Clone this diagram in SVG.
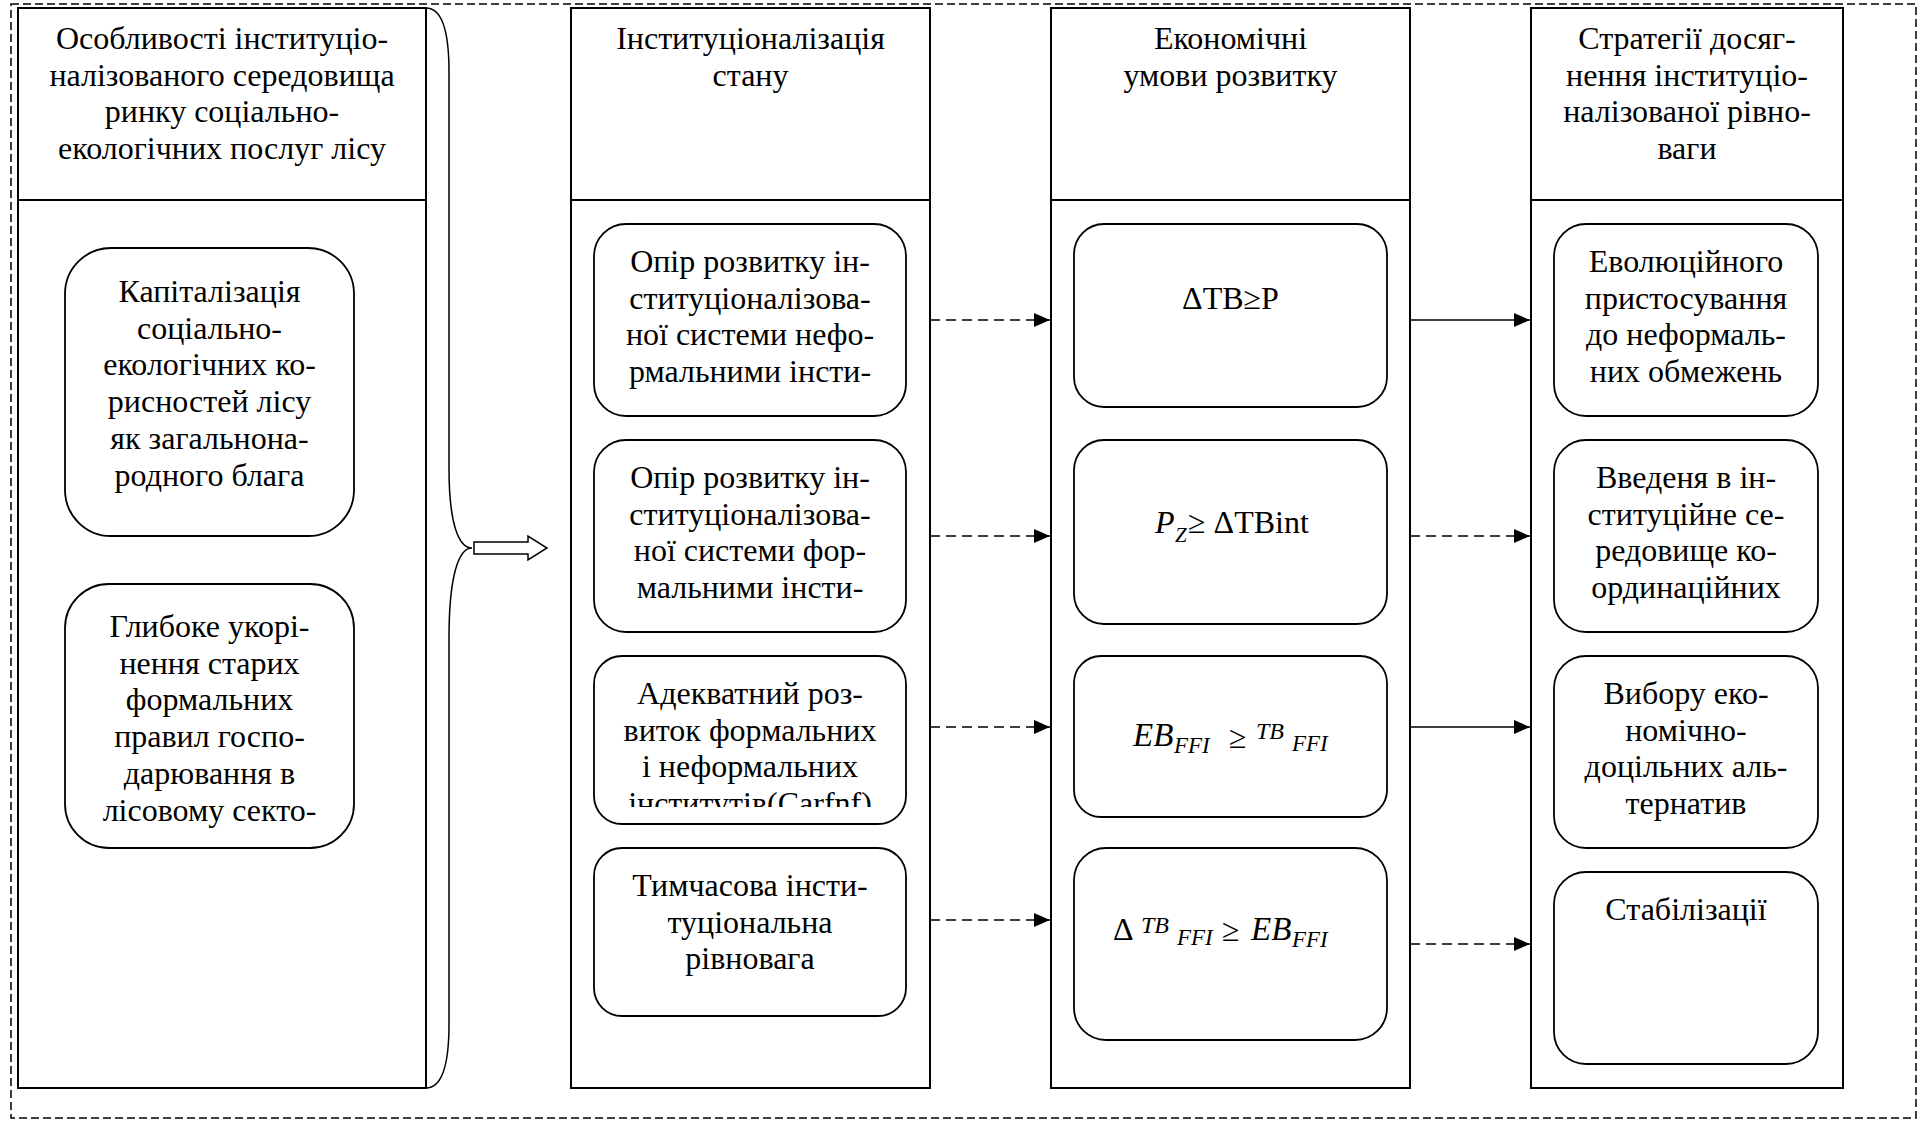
<svg xmlns="http://www.w3.org/2000/svg" width="1921" height="1121" viewBox="0 0 1921 1121">
<defs>
<style>
.t{font-family:"Liberation Serif","Times New Roman",serif;font-size:32px;fill:#000;text-anchor:middle}
.m{font-family:"Liberation Serif","Times New Roman",serif;font-size:32px;fill:#000}
.i{font-style:italic}
.b{font-size:33px}
.s{font-size:23px}
.u{font-size:24px}
.col{fill:none;stroke:#000;stroke-width:2}
.box{fill:none;stroke:#000;stroke-width:1.8}
.c{fill:none;stroke:#000;stroke-width:1.5}
.d{stroke-dasharray:10 6}
.frame{fill:none;stroke:#000;stroke-width:1.5;stroke-dasharray:8 4}
</style>
<marker id="ah" viewBox="0 0 16 14" markerWidth="16" markerHeight="14" refX="16" refY="7" orient="auto" markerUnits="userSpaceOnUse">
<path d="M0,0 L16,7 L0,14 Z" fill="#000"/>
</marker>
<clipPath id="clipA"><rect x="594" y="656" width="312" height="151"/></clipPath>
</defs>
<rect width="1921" height="1121" fill="#fff"/>
<rect class="frame" x="11" y="4" width="1905" height="1114"/>

<g id="col1">
<rect class="col" x="18" y="8" width="408" height="1080"/>
<line class="col" x1="18" y1="200" x2="426" y2="200"/>
<text class="t"><tspan x="222" y="49">Особливості інституціо-</tspan><tspan x="222" y="85.7">налізованого середовища</tspan><tspan x="222" y="122.4">ринку соціально-</tspan><tspan x="222" y="159.1">екологічних послуг лісу</tspan></text>
</g>
<g id="n-cap">
<rect class="box" x="65" y="248" width="289" height="288" rx="46"/>
<text class="t"><tspan x="209.5" y="302">Капіталізація</tspan><tspan x="209.5" y="338.7">соціально-</tspan><tspan x="209.5" y="375.4">екологічних ко-</tspan><tspan x="209.5" y="412.1">рисностей лісу</tspan><tspan x="209.5" y="448.8">як загальнона-</tspan><tspan x="209.5" y="485.5">родного блага</tspan></text>
</g>
<g id="n-gl">
<rect class="box" x="65" y="584" width="289" height="264" rx="44"/>
<text class="t"><tspan x="209.5" y="637">Глибоке укорі-</tspan><tspan x="209.5" y="673.7">нення старих</tspan><tspan x="209.5" y="710.4">формальних</tspan><tspan x="209.5" y="747.1">правил госпо-</tspan><tspan x="209.5" y="783.8">дарювання в</tspan><tspan x="209.5" y="820.5">лісовому секто-</tspan></text>
</g>

<g id="col2">
<rect class="col" x="571" y="8" width="359" height="1080"/>
<line class="col" x1="571" y1="200" x2="930" y2="200"/>
<text class="t"><tspan x="750.5" y="49">Інституціоналізація</tspan><tspan x="750.5" y="85.7">стану</tspan></text>
</g>
<g id="n-op1">
<rect class="box" x="594" y="224" width="312" height="192" rx="32"/>
<text class="t"><tspan x="750" y="272">Опір розвитку ін-</tspan><tspan x="750" y="308.7">ституціоналізова-</tspan><tspan x="750" y="345.4">ної системи нефо-</tspan><tspan x="750" y="382.1">рмальними інсти-</tspan></text>
</g>
<g id="n-op2">
<rect class="box" x="594" y="440" width="312" height="192" rx="32"/>
<text class="t"><tspan x="750" y="488">Опір розвитку ін-</tspan><tspan x="750" y="524.7">ституціоналізова-</tspan><tspan x="750" y="561.4">ної системи фор-</tspan><tspan x="750" y="598.1">мальними інсти-</tspan></text>
</g>
<g id="n-ad">
<rect class="box" x="594" y="656" width="312" height="168" rx="28"/>
<text class="t" clip-path="url(#clipA)"><tspan x="750" y="704">Адекватний роз-</tspan><tspan x="750" y="740.7">виток формальних</tspan><tspan x="750" y="777.4">і неформальних</tspan><tspan x="750" y="814.1">інститутів(Carfnf)</tspan></text>
</g>
<g id="n-tm">
<rect class="box" x="594" y="848" width="312" height="168" rx="28"/>
<text class="t"><tspan x="750" y="896">Тимчасова інсти-</tspan><tspan x="750" y="932.7">туціональна</tspan><tspan x="750" y="969.4">рівновага</tspan></text>
</g>

<g id="col3">
<rect class="col" x="1051" y="8" width="359" height="1080"/>
<line class="col" x1="1051" y1="200" x2="1410" y2="200"/>
<text class="t"><tspan x="1230.5" y="49">Економічні</tspan><tspan x="1230.5" y="85.7">умови розвитку</tspan></text>
</g>
<g id="n-f1">
<rect class="box" x="1074" y="224" width="313" height="183" rx="30"/>
<text class="t" x="1230.5" y="309">ΔTB≥P</text>
</g>
<g id="n-f2">
<rect class="box" x="1074" y="440" width="313" height="184" rx="30"/>
<text class="m"><tspan class="i" x="1155" y="533">P</tspan><tspan class="i" font-size="21" x="1175" y="542">Z</tspan><tspan x="1188" y="533">≥ ΔTBint</tspan></text>
</g>
<g id="n-f3">
<rect class="box" x="1074" y="656" width="313" height="161" rx="27"/>
<text class="m"><tspan class="i b" x="1133" y="746">EB</tspan><tspan class="i s" x="1174" y="753">FFI</tspan><tspan x="1229" y="748">≥</tspan><tspan class="i u" x="1256" y="739">TB</tspan><tspan class="i s" x="1292" y="751">FFI</tspan></text>
</g>
<g id="n-f4">
<rect class="box" x="1074" y="848" width="313" height="192" rx="32"/>
<text class="m"><tspan x="1113" y="940">Δ</tspan><tspan class="i u" x="1141" y="933">TB</tspan><tspan class="i s" x="1177" y="945">FFI</tspan><tspan x="1222" y="941">≥</tspan><tspan class="i b" x="1251" y="940">EB</tspan><tspan class="i s" x="1292" y="947">FFI</tspan></text>
</g>

<g id="col4">
<rect class="col" x="1531" y="8" width="312" height="1080"/>
<line class="col" x1="1531" y1="200" x2="1843" y2="200"/>
<text class="t"><tspan x="1687" y="49">Стратегії досяг-</tspan><tspan x="1687" y="85.7">нення інституціо-</tspan><tspan x="1687" y="122.4">налізованої рівно-</tspan><tspan x="1687" y="159.1">ваги</tspan></text>
</g>
<g id="n-ev">
<rect class="box" x="1554" y="224" width="264" height="192" rx="32"/>
<text class="t"><tspan x="1686" y="272">Еволюційного</tspan><tspan x="1686" y="308.7">пристосування</tspan><tspan x="1686" y="345.4">до неформаль-</tspan><tspan x="1686" y="382.1">них обмежень</tspan></text>
</g>
<g id="n-vv">
<rect class="box" x="1554" y="440" width="264" height="192" rx="32"/>
<text class="t"><tspan x="1686" y="488">Введеня в ін-</tspan><tspan x="1686" y="524.7">ституційне се-</tspan><tspan x="1686" y="561.4">редовище ко-</tspan><tspan x="1686" y="598.1">ординаційних</tspan></text>
</g>
<g id="n-vb">
<rect class="box" x="1554" y="656" width="264" height="192" rx="32"/>
<text class="t"><tspan x="1686" y="704">Вибору еко-</tspan><tspan x="1686" y="740.7">номічно-</tspan><tspan x="1686" y="777.4">доцільних аль-</tspan><tspan x="1686" y="814.1">тернатив</tspan></text>
</g>
<g id="n-st">
<rect class="box" x="1554" y="872" width="264" height="192" rx="32"/>
<text class="t" x="1686" y="920">Стабілізації</text>
</g>

<g id="connectors">
<path class="c" d="M426,8 C441,8 449,30 449,72 L449,468 C449,522 458,548 472,548 C458,548 449,578 449,638 L449,1024 C449,1066 441,1088 426,1088"/>
<path d="M474,542 H528 V536 L547,548 L528,560 V554 H474 Z" fill="#fff" stroke="#000" stroke-width="1.5"/>
<line class="c d" x1="930" y1="320" x2="1050" y2="320" marker-end="url(#ah)"/>
<line class="c d" x1="930" y1="536" x2="1050" y2="536" marker-end="url(#ah)"/>
<line class="c d" x1="930" y1="727" x2="1050" y2="727" marker-end="url(#ah)"/>
<line class="c d" x1="930" y1="920" x2="1050" y2="920" marker-end="url(#ah)"/>
<line class="c" x1="1410" y1="320" x2="1530" y2="320" marker-end="url(#ah)"/>
<line class="c d" x1="1410" y1="536" x2="1530" y2="536" marker-end="url(#ah)"/>
<line class="c" x1="1410" y1="727" x2="1530" y2="727" marker-end="url(#ah)"/>
<line class="c d" x1="1410" y1="944" x2="1530" y2="944" marker-end="url(#ah)"/>
</g>
</svg>
